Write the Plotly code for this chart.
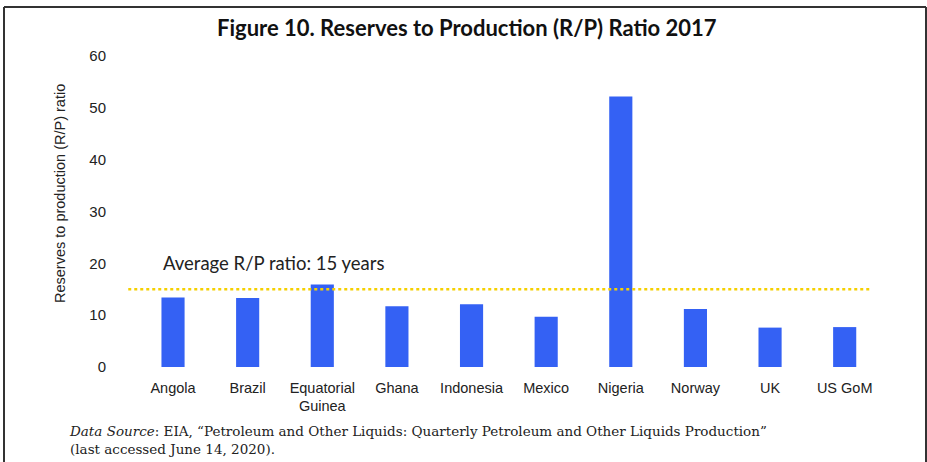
import plotly.graph_objects as go

# R/P ratio by producer, 2017
countries = ["Angola", "Brazil", "Equatorial<br>Guinea", "Ghana", "Indonesia",
             "Mexico", "Nigeria", "Norway", "UK", "US GoM"]
rp_ratio = [13.4, 13.3, 15.9, 11.7, 12.1, 9.7, 52.2, 11.2, 7.6, 7.7]
average_rp = 15
y_ticks = [0, 10, 20, 30, 40, 50, 60]

W, H = 927, 462
L, R, T, B = 127, 45, 56, 95
pw, ph = W - L - R, H - T - B

SANS = "Liberation Sans"


def px(x):
    return (x - L) / pw


def py(y):
    return (H - B - y) / ph


fig = go.Figure()
fig.add_trace(go.Bar(
    x=countries, y=rp_ratio, width=0.31,
    marker=dict(color="#3461f4", line=dict(width=0)),
))

# average line across the categories
fig.add_shape(type="line", xref="x", yref="y",
              x0=-0.6, x1=9.35, y0=average_rp, y1=average_rp,
              line=dict(color="#f5d000", width=2.5, dash="dot"))

ann = [
    dict(text="<b>Figure 10. Reserves to Production (R/P) Ratio 2017</b>",
         x=px(467), y=py(27), xanchor="center", yanchor="middle",
         font=dict(family="Lato", size=22, color="#111")),
    dict(text=f"Average R/P ratio: {average_rp} years",
         x=px(161), y=py(263), xanchor="left", yanchor="middle",
         font=dict(family="Lato", size=18.5, color="#222")),
    dict(text="Reserves to production (R/P) ratio", textangle=-90,
         x=px(60), y=py(194), xanchor="center", yanchor="middle",
         font=dict(family=SANS, size=14.5, color="#222")),
    dict(text="<i>Data Source</i>: EIA, \u201cPetroleum and Other Liquids: Quarterly Petroleum "
              "and Other Liquids Production\u201d<br>(last accessed June 14, 2020).",
         x=px(67), y=py(440), xanchor="left", yanchor="middle", align="left",
         font=dict(family="DejaVu Serif", size=13.5, color="#222")),
]
for a in ann:
    a.update(xref="paper", yref="paper", showarrow=False)

# frame around the figure
frame = dict(color="#333", width=2)
for x0, y0, x1, y1 in [(4, 7, 4, 470), (4, 7, 926, 7), (926, 7, 926, 470)]:
    fig.add_shape(type="line", xref="paper", yref="paper",
                  x0=px(x0), y0=py(y0), x1=px(x1), y1=py(y1), line=frame)

fig.update_layout(
    width=W, height=H,
    margin=dict(l=L, r=R, t=T, b=B, autoexpand=False),
    paper_bgcolor="white", plot_bgcolor="white",
    showlegend=False, annotations=ann,
    font=dict(family=SANS, color="#222"),
    bargap=0.69,
)
fig.update_xaxes(showgrid=False, showline=False, ticks="", ticklabelstandoff=10,
                 tickfont=dict(size=14.5, family=SANS, color="#222"))
fig.update_yaxes(range=[0, 60], tickvals=y_ticks, showgrid=False, zeroline=False,
                 showline=False, ticks="", ticklabelstandoff=20,
                 tickfont=dict(size=15, family=SANS, color="#222"))

fig.write_html("out.html")
